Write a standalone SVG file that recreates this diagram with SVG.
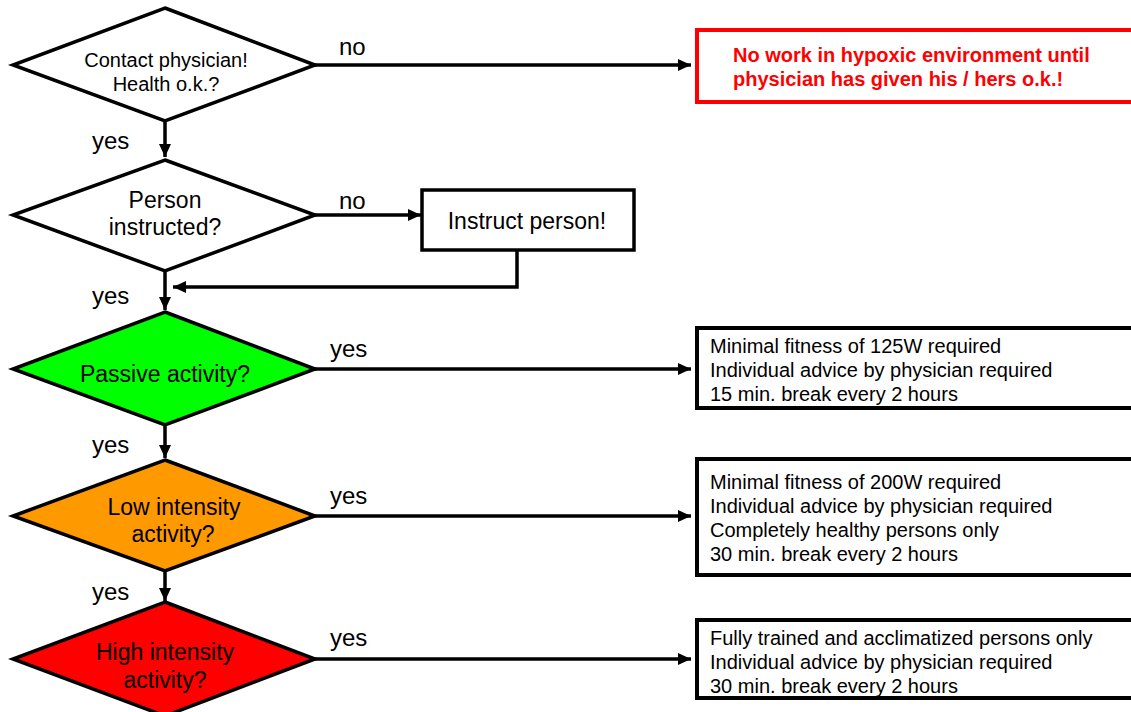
<svg xmlns="http://www.w3.org/2000/svg" width="1131" height="712" viewBox="0 0 1131 712">
  <style>
    .dia { stroke: #000; stroke-width: 3.5; stroke-linejoin: miter; }
    .box { fill: none; stroke: #000; stroke-width: 4; }
    .txt { font-family: "Liberation Sans", Arial, sans-serif; fill: #000; }
    .lbl { font-family: "Liberation Sans", Arial, sans-serif; font-size: 24px; fill: #000; }
    .big { font-size: 23px; text-anchor: middle; }
    .mid { font-size: 20px; text-anchor: middle; }
    .note { font-size: 20px; }
    .warn { font-family: "Liberation Sans", Arial, sans-serif; font-size: 20px; font-weight: bold; fill: #ff0000; }
    .conn { fill: none; stroke: #000; stroke-width: 3.5; }
  </style>
  <defs>
    <marker id="arrow" markerUnits="userSpaceOnUse" markerWidth="14" markerHeight="12" refX="13" refY="6" orient="auto">
      <path d="M0,0 L13,6 L0,12 Z" fill="#000"/>
    </marker>
  </defs>
  <rect width="1131" height="712" fill="#fff"/>

  <!-- connectors -->
  <g id="connectors">
    <path class="conn" d="M315,65 H691" marker-end="url(#arrow)"/>
    <path class="conn" d="M165,121 V157" marker-end="url(#arrow)"/>
    <path class="conn" d="M315,215 H421" marker-end="url(#arrow)"/>
    <path class="conn" d="M517,250 V287 H173" marker-end="url(#arrow)"/>
    <path class="conn" d="M165,271 V310" marker-end="url(#arrow)"/>
    <path class="conn" d="M315,369 H691" marker-end="url(#arrow)"/>
    <path class="conn" d="M165,425 V458" marker-end="url(#arrow)"/>
    <path class="conn" d="M315,516 H691" marker-end="url(#arrow)"/>
    <path class="conn" d="M165,571 V601" marker-end="url(#arrow)"/>
    <path class="conn" d="M315,659 H691" marker-end="url(#arrow)"/>
    <text class="lbl" x="339" y="55">no</text>
    <text class="lbl" x="92" y="149">yes</text>
    <text class="lbl" x="339" y="209">no</text>
    <text class="lbl" x="92" y="304">yes</text>
    <text class="lbl" x="330" y="357">yes</text>
    <text class="lbl" x="92" y="453">yes</text>
    <text class="lbl" x="330" y="504">yes</text>
    <text class="lbl" x="92" y="600">yes</text>
    <text class="lbl" x="330" y="646">yes</text>
  </g>

  <!-- decision: health check -->
  <g id="health">
    <polygon class="dia" fill="#fff" points="165,8 315,65 165,121 13,65"/>
    <text class="txt mid" x="166" y="67">Contact physician!</text>
    <text class="txt mid" x="166" y="91">Health o.k.?</text>
  </g>

  <!-- stop notice -->
  <g id="stop">
    <rect x="697" y="30" width="450" height="72" fill="#fff" stroke="#ff0000" stroke-width="4"/>
    <text class="warn" x="733" y="62">No work in hypoxic environment until</text>
    <text class="warn" x="733" y="86">physician has given his / hers o.k.!</text>
  </g>

  <!-- decision: instructed -->
  <g id="instructed">
    <polygon class="dia" fill="#fff" points="165,160 315,215 165,271 13,215"/>
    <text class="txt big" x="165" y="208">Person</text>
    <text class="txt big" x="165" y="235">instructed?</text>
  </g>

  <!-- instruction step -->
  <g id="instruct">
    <rect x="422" y="190" width="212" height="60" fill="#fff" stroke="#000" stroke-width="3.5"/>
    <text class="txt big" x="527" y="229">Instruct person!</text>
  </g>

  <!-- decision: passive activity -->
  <g id="passive">
    <polygon class="dia" fill="#00ff00" points="165,312 315,369 165,425 13,369"/>
    <text class="txt big" x="165" y="382">Passive activity?</text>
  </g>

  <g id="passive-rules">
    <rect x="697" y="328" width="450" height="80" fill="#fff"/>
    <text class="txt note" x="710" y="353">Minimal fitness of 125W required</text>
    <text class="txt note" x="710" y="377">Individual advice by physician required</text>
    <text class="txt note" x="710" y="401">15 min. break every 2 hours</text>
    <rect class="box" x="697" y="328" width="450" height="80"/>
  </g>

  <!-- decision: low intensity -->
  <g id="low">
    <polygon class="dia" fill="#ff9900" points="165,460 315,516 165,571 13,516"/>
    <text class="txt big" x="174" y="515">Low intensity</text>
    <text class="txt big" x="173" y="542">activity?</text>
  </g>

  <g id="low-rules">
    <rect x="697" y="459" width="450" height="116" fill="#fff"/>
    <text class="txt note" x="710" y="489">Minimal fitness of 200W required</text>
    <text class="txt note" x="710" y="513">Individual advice by physician required</text>
    <text class="txt note" x="710" y="537">Completely healthy persons only</text>
    <text class="txt note" x="710" y="561">30 min. break every 2 hours</text>
    <rect class="box" x="697" y="459" width="450" height="116"/>
  </g>

  <!-- decision: high intensity -->
  <g id="high">
    <polygon class="dia" fill="#ff0000" points="165,602 315,659 165,716 13,659"/>
    <text class="txt big" x="165" y="660">High intensity</text>
    <text class="txt big" x="165" y="688">activity?</text>
  </g>

  <g id="high-rules">
    <rect x="697" y="620" width="450" height="78" fill="#fff"/>
    <text class="txt note" x="710" y="645">Fully trained and acclimatized persons only</text>
    <text class="txt note" x="710" y="669">Individual advice by physician required</text>
    <text class="txt note" x="710" y="693">30 min. break every 2 hours</text>
    <rect class="box" x="697" y="620" width="450" height="78"/>
  </g>
</svg>
